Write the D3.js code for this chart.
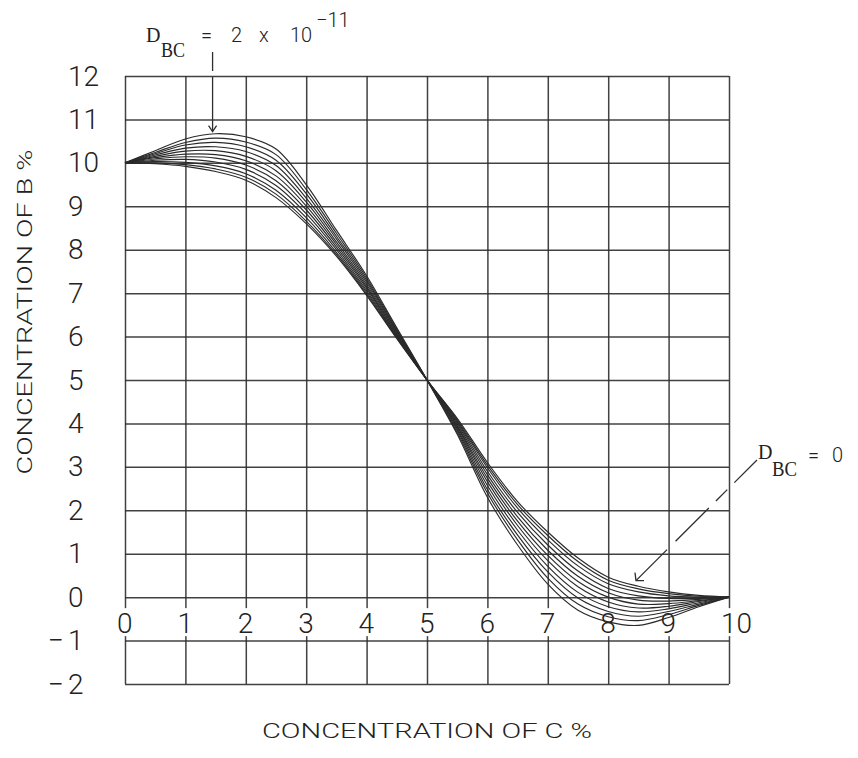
<!DOCTYPE html>
<html>
<head>
<meta charset="utf-8">
<script src="https://cdn.jsdelivr.net/npm/d3@7"></script>
<style>
  html, body { margin: 0; padding: 0; background: #fff; }
  svg { display: block; }
</style>
</head>
<body>
<script>
// Axis ticks
const xTicks = [0, 1, 2, 3, 4, 5, 6, 7, 8, 9, 10];
const xTickLabels = ["0", "1", "2", "3", "4", "5", "6", "7", "8", "9", "10"];
const yTicks = [-2, -1, 0, 1, 2, 3, 4, 5, 6, 7, 8, 9, 10, 11, 12];
const yTickLabels = ["-2", "-1", "0", "1", "2", "3", "4", "5", "6", "7", "8", "9", "10", "11", "12"];

// Concentration of C (%) at which each profile is sampled
const concC = [0, 0.5, 1, 1.5, 2, 2.5, 3, 3.5, 4, 4.5, 5, 5.5, 6, 6.5, 7, 7.5, 8, 8.5, 9, 9.5, 10];

// Concentration of B (%) for each cross-diffusion coefficient D_BC (x 10^-11)
const dbcLevels = [0, 0.2, 0.4, 0.6, 0.8, 1.0, 1.2, 1.4, 1.6, 1.8, 2.0];
const dbc00 = [10, 9.98, 9.92, 9.80, 9.60, 9.20, 8.60, 7.85, 6.95, 5.95, 5, 4.12, 3.10, 2.20, 1.50, 0.90, 0.46, 0.25, 0.12, 0.04, 0];
const dbc02 = [10, 10.00, 9.96, 9.86, 9.67, 9.28, 8.66, 7.89, 6.98, 5.97, 5, 4.09, 3.04, 2.13, 1.42, 0.82, 0.39, 0.19, 0.08, 0.02, 0];
const dbc04 = [10, 10.03, 10.01, 9.93, 9.75, 9.37, 8.74, 7.94, 7.02, 5.99, 5, 4.06, 2.98, 2.05, 1.32, 0.72, 0.31, 0.12, 0.03, 0.00, 0];
const dbc06 = [10, 10.06, 10.08, 10.02, 9.85, 9.48, 8.83, 8.00, 7.06, 6.01, 5, 4.03, 2.90, 1.95, 1.20, 0.60, 0.20, 0.03, -0.03, -0.03, 0];
const dbc08 = [10, 10.09, 10.14, 10.11, 9.95, 9.59, 8.92, 8.06, 7.11, 6.04, 5, 3.99, 2.82, 1.85, 1.08, 0.48, 0.10, -0.07, -0.09, -0.05, 0];
const dbc10 = [10, 10.12, 10.20, 10.19, 10.05, 9.70, 9.01, 8.12, 7.15, 6.06, 5, 3.95, 2.74, 1.75, 0.96, 0.36, 0.00, -0.16, -0.15, -0.08, 0];
const dbc12 = [10, 10.15, 10.27, 10.28, 10.15, 9.82, 9.10, 8.18, 7.20, 6.09, 5, 3.92, 2.66, 1.65, 0.84, 0.24, -0.11, -0.25, -0.21, -0.10, 0];
const dbc14 = [10, 10.18, 10.34, 10.37, 10.26, 9.94, 9.19, 8.25, 7.25, 6.12, 5, 3.88, 2.57, 1.54, 0.71, 0.11, -0.22, -0.34, -0.27, -0.13, 0];
const dbc16 = [10, 10.21, 10.41, 10.47, 10.37, 10.06, 9.29, 8.31, 7.30, 6.14, 5, 3.84, 2.48, 1.43, 0.58, -0.02, -0.33, -0.44, -0.33, -0.16, 0];
const dbc18 = [10, 10.24, 10.47, 10.57, 10.48, 10.19, 9.39, 8.38, 7.35, 6.17, 5, 3.79, 2.40, 1.32, 0.44, -0.16, -0.45, -0.54, -0.40, -0.19, 0];
const dbc20 = [10, 10.28, 10.55, 10.67, 10.60, 10.32, 9.50, 8.45, 7.40, 6.20, 5, 3.75, 2.30, 1.20, 0.30, -0.30, -0.57, -0.65, -0.47, -0.22, 0];

const profiles = [dbc00, dbc02, dbc04, dbc06, dbc08, dbc10, dbc12, dbc14, dbc16, dbc18, dbc20]
  .map((vals, i) => ({ dbc: dbcLevels[i], points: concC.map((c, j) => [c, vals[j]]) }));

const W = 858, H = 758;
const ink = "#2e2e2e";
const plotFont = "Roboto, 'DejaVu Sans', sans-serif";
const serifFont = "'Liberation Serif', 'DejaVu Serif', serif";

const svg = d3.select("body").append("svg")
  .attr("width", W).attr("height", H)
  .attr("viewBox", `0 0 ${W} ${H}`);

svg.append("rect").attr("width", W).attr("height", H).attr("fill", "#fff");

const x = d3.scaleLinear().domain([0, 10]).range([125, 729]);
const y = d3.scaleLinear().domain([-2, 12]).range([684, 76]);

// Grid (drawn as axes with full-length ticks)
const grid = svg.append("g").attr("class", "grid");
grid.append("g")
  .attr("transform", `translate(0,${y(-2)})`)
  .call(d3.axisBottom(x).tickValues(xTicks).tickSize(-(y(-2) - y(12))).tickFormat(""))
  .call(g => g.select(".domain").remove());
grid.append("g")
  .attr("transform", `translate(${x(0)},0)`)
  .call(d3.axisLeft(y).tickValues(yTicks).tickSize(-(x(10) - x(0))).tickFormat(""))
  .call(g => g.select(".domain").remove());
grid.selectAll("line")
  .attr("stroke", ink)
  .attr("stroke-width", 1.5)
  .attr("stroke-opacity", 0.9);

// X tick labels sit in the row between 0 and -1, breaking the grid lines
const xLab = svg.append("g").attr("class", "x-labels")
  .attr("font-family", plotFont).attr("font-size", 28).attr("font-weight", 300).attr("fill", "#222");
const xLabelY = y(0) + 26;
xTicks.forEach((t, i) => {
  const txt = xLab.append("text")
    .attr("x", x(t) - 8)
    .attr("y", xLabelY)
    .attr("dominant-baseline", "central")
    .attr("text-anchor", "start")
    .text(xTickLabels[i]);
  const bb = txt.node().getBBox();
  xLab.insert("rect", "text")
    .attr("x", bb.x - 1).attr("y", y(0) + 11)
    .attr("width", bb.width + 2).attr("height", 28)
    .attr("fill", "#fff");
});

// Y tick labels
const yLab = svg.append("g").attr("class", "y-labels")
  .attr("font-family", plotFont).attr("font-size", 28).attr("font-weight", 300).attr("fill", "#222");
yTicks.forEach((t, i) => {
  const lab = yTickLabels[i];
  const neg = lab.startsWith("-");
  yLab.append("text")
    .attr("x", 68).attr("y", y(t))
    .attr("dominant-baseline", "central")
    .text(neg ? lab.slice(1) : lab);
  if (neg) {
    yLab.append("text")
      .attr("x", 64).attr("y", y(t))
      .attr("text-anchor", "end")
      .attr("dominant-baseline", "central")
      .text("\u2212");
  }
});

// Axis titles
svg.append("text")
  .attr("x", 427).attr("y", 731)
  .attr("text-anchor", "middle").attr("dominant-baseline", "central")
  .attr("font-family", plotFont).attr("font-size", 21).attr("font-weight", 300).attr("fill", "#222")
  .attr("textLength", 330).attr("lengthAdjust", "spacingAndGlyphs")
  .text("CONCENTRATION OF C %");

svg.append("text")
  .attr("transform", "translate(25,312) rotate(-90)")
  .attr("text-anchor", "middle").attr("dominant-baseline", "central")
  .attr("font-family", plotFont).attr("font-size", 21).attr("font-weight", 300).attr("fill", "#222")
  .attr("textLength", 325).attr("lengthAdjust", "spacingAndGlyphs")
  .text("CONCENTRATION OF B %");

// Profiles
const line = d3.line()
  .x(d => x(d[0]))
  .y(d => y(d[1]))
  .curve(d3.curveCatmullRom.alpha(0.5));

svg.append("g").attr("class", "profiles")
  .selectAll("path")
  .data(profiles)
  .join("path")
  .attr("d", d => line(d.points))
  .attr("fill", "none")
  .attr("stroke", "#2a2a2a")
  .attr("stroke-width", 1.15);

// Annotation: D_BC = 2 x 10^-11
const ann = svg.append("g").attr("class", "annotations").attr("fill", "#222");
ann.append("text").attr("x", 146).attr("y", 42)
  .attr("font-family", serifFont).attr("font-size", 20).text("D");
ann.append("text").attr("x", 161).attr("y", 57)
  .attr("font-family", serifFont).attr("font-size", 20)
  .attr("textLength", 24).attr("lengthAdjust", "spacingAndGlyphs").text("BC");
ann.append("text").attr("x", 201).attr("y", 42)
  .attr("font-family", plotFont).attr("font-size", 20).attr("font-weight", 300).text("=");
ann.append("text").attr("x", 231).attr("y", 42)
  .attr("font-family", plotFont).attr("font-size", 20).attr("font-weight", 300).text("2");
ann.append("text").attr("x", 259).attr("y", 42)
  .attr("font-family", plotFont).attr("font-size", 20).attr("font-weight", 300).text("x");
ann.append("text").attr("x", 290).attr("y", 42)
  .attr("font-family", plotFont).attr("font-size", 20).attr("font-weight", 300).text("10");
ann.append("text").attr("x", 316).attr("y", 27)
  .attr("font-family", plotFont).attr("font-size", 20).attr("font-weight", 300).text("\u221211");

const arrowTop = { x: x(1.45), y: y(10.72) };
ann.append("line")
  .attr("x1", arrowTop.x).attr("y1", 52)
  .attr("x2", arrowTop.x).attr("y2", arrowTop.y)
  .attr("stroke", ink).attr("stroke-width", 1.3)
  .attr("stroke-dasharray", "19,6,60");
ann.append("path")
  .attr("d", `M${arrowTop.x - 4},${arrowTop.y - 6} L${arrowTop.x},${arrowTop.y} L${arrowTop.x + 4},${arrowTop.y - 6}`)
  .attr("fill", "none").attr("stroke", ink).attr("stroke-width", 1.3);

// Annotation: D_BC = 0
ann.append("text").attr("x", 758).attr("y", 459)
  .attr("font-family", serifFont).attr("font-size", 20).text("D");
ann.append("text").attr("x", 772).attr("y", 476)
  .attr("font-family", serifFont).attr("font-size", 20)
  .attr("textLength", 25).attr("lengthAdjust", "spacingAndGlyphs").text("BC");
ann.append("text").attr("x", 808).attr("y", 462)
  .attr("font-family", plotFont).attr("font-size", 20).attr("font-weight", 300).text("=");
ann.append("text").attr("x", 832).attr("y", 462)
  .attr("font-family", plotFont).attr("font-size", 20).attr("font-weight", 300).text("0");

const tip = { x: x(8.46), y: y(0.38) };
ann.append("line")
  .attr("x1", 757).attr("y1", 460)
  .attr("x2", tip.x).attr("y2", tip.y)
  .attr("stroke", ink).attr("stroke-width", 1.3)
  .attr("stroke-dasharray", "32,10,16,10,47,12,60");
ann.append("path")
  .attr("d", `M${tip.x - 1},${tip.y - 8} L${tip.x},${tip.y} L${tip.x + 8},${tip.y}`)
  .attr("fill", "none").attr("stroke", ink).attr("stroke-width", 1.3);
</script>
</body>
</html>
